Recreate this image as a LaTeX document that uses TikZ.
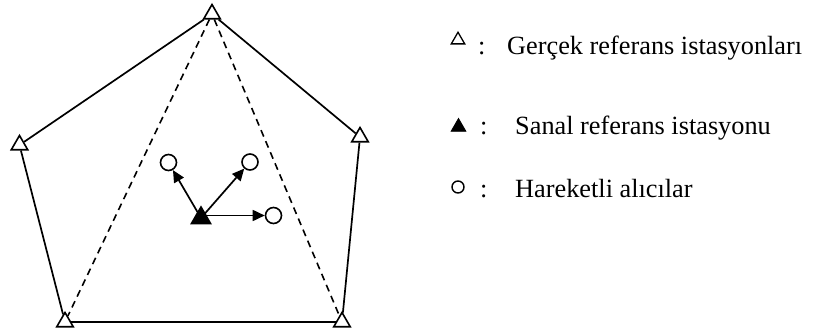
\documentclass[tikz,border=0pt]{standalone}
\usepackage{fontspec}
\setmainfont{Liberation Serif}
\usetikzlibrary{shapes.geometric,arrows.meta}
\begin{document}
\begin{tikzpicture}[x=1pt,y=-1pt,
 station/.style={draw,regular polygon,regular polygon sides=3,minimum size=19pt,inner sep=0pt,line width=1.6pt},
 virt/.style={station,fill=black},
 rover/.style={draw,circle,minimum size=16pt,inner sep=0pt,line width=1.6pt},
 edge/.style={line width=1.7pt},
 dashedge/.style={line width=1.6pt,dash pattern=on 7pt off 5pt},
 arr/.style={line width=1.7pt,-{Triangle[length=12pt,width=11pt]}},
 lbl/.style={anchor=base west,inner sep=0pt,font=\fontsize{26.3}{30}\selectfont}
]
\useasboundingbox (0,0) rectangle (814,329);
% stations
\node[station] (T) at (212,14) {};
\node[station] (L) at (19.5,145) {};
\node[station] (R) at (360,137) {};
\node[station] (BL) at (65,322) {};
\node[station] (BR) at (342,322) {};
\draw[edge] (T) -- (L);
\draw[edge] (L) -- (BL);
\draw[edge] (BL) -- (BR);
\draw[edge] (BR) -- (R);
\draw[edge] (R) -- (T);
\draw[dashedge] (T) -- (BL);
\draw[dashedge] (T) -- (BR);
% rovers
\node[rover] (C1) at (168.5,162.5) {};
\node[rover] (C2) at (250,162) {};
\node[rover] (C3) at (273.5,215.5) {};
% virtual station
\node[virt,minimum size=22pt] (V) at (201,218) {};
\draw[arr] (V.center) -- (C1);
\draw[arr] (V.center) -- (C2);
\draw[arr] (V.center |- C3) -- (C3);
% legend
\node[station,minimum size=15.5pt,line width=1.3pt] (k1) at (458,40) {};
\node[virt,minimum size=17pt,line width=0.8pt] (k2) at (458.5,127) {};
\node[rover,minimum size=12pt,line width=1.4pt] (k3) at (458,187) {};
\node[lbl] (d1) at (478,55) {:};
\node[lbl] (d2) at (480,134) {:};
\node[lbl] (d3) at (480,197) {:};
\node[lbl] (t1) at (507,55) {Gerçek referans istasyonları};
\node[lbl] (t2) at (515,134) {Sanal referans istasyonu};
\node[lbl] (t3) at (515,197) {Hareketli alıcılar};
\end{tikzpicture}
\end{document}
